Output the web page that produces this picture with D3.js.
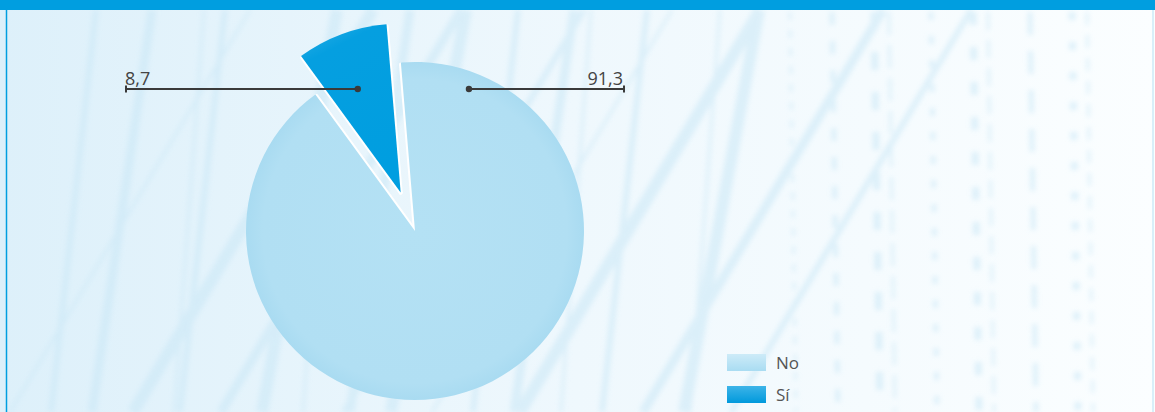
<!DOCTYPE html>
<html>
<head>
<meta charset="utf-8">
<script src="https://cdn.jsdelivr.net/npm/d3@7"></script>
<style>
  body { margin: 0; background: #fff; }
  svg { display: block; font-family: "Open Sans", "Noto Sans", sans-serif; }
</style>
</head>
<body>
<svg width="1155" height="412"></svg>
<script>
// data
const categories = ["No", "Sí"];
const values = [91.3, 8.7];
const valueLabels = ["91,3", "8,7"];

const svg = d3.select("svg");
const width = +svg.attr("width"),
      height = +svg.attr("height");

const cx = 415, cy = 231, radius = 169;
const startDeg = -4.8;      // No starts just left of 12 o'clock
const explode = [0, 41];    // Sí is pulled out
const labelY = 89;

const defs = svg.append("defs");

// background
const bg = defs.append("linearGradient").attr("id", "bg");
bg.append("stop").attr("offset", "0%").attr("stop-color", "#ddf0fa");
bg.append("stop").attr("offset", "50%").attr("stop-color", "#eff8fd");
bg.append("stop").attr("offset", "100%").attr("stop-color", "#fbfeff");

const blur = defs.append("filter").attr("id", "soft");
blur.append("feGaussianBlur").attr("stdDeviation", 2.5);

const noGrad = defs.append("radialGradient").attr("id", "g0");
noGrad.append("stop").attr("offset", "0%").attr("stop-color", "#b4e1f4");
noGrad.append("stop").attr("offset", "90%").attr("stop-color", "#b1dff3");
noGrad.append("stop").attr("offset", "100%").attr("stop-color", "#a9dbf1");

const siGrad = defs.append("linearGradient").attr("id", "g1")
    .attr("x1", 0).attr("y1", 0).attr("x2", 0.3).attr("y2", 1);
siGrad.append("stop").attr("offset", "0%").attr("stop-color", "#2fb0e6");
siGrad.append("stop").attr("offset", "22%").attr("stop-color", "#059fe0");
siGrad.append("stop").attr("offset", "100%").attr("stop-color", "#009ee0");

const legNo = defs.append("linearGradient").attr("id", "l0")
    .attr("x1", 0).attr("y1", 0).attr("x2", 0).attr("y2", 1);
legNo.append("stop").attr("offset", "0%").attr("stop-color", "#cdebf8");
legNo.append("stop").attr("offset", "100%").attr("stop-color", "#a9dcf2");
const legSi = defs.append("linearGradient").attr("id", "l1")
    .attr("x1", 0).attr("y1", 0).attr("x2", 0).attr("y2", 1);
legSi.append("stop").attr("offset", "0%").attr("stop-color", "#3db4e8");
legSi.append("stop").attr("offset", "100%").attr("stop-color", "#0099dc");

svg.append("rect").attr("width", width).attr("height", height).attr("fill", "url(#bg)");

// faint texture strokes
const tex = svg.append("g").attr("stroke", "#c9e7f6").attr("fill", "none")
    .attr("opacity", 0.55).attr("filter", "url(#soft)");
d3.range(22).forEach(i => {
    const x0 = 10 + i * 34 + (i % 5) * 7;
    tex.append("line")
        .attr("x1", x0).attr("y1", height)
        .attr("x2", x0 + (i % 3 === 0 ? 240 : 30 + (i % 4) * 15)).attr("y2", 10)
        .attr("stroke-width", 3 + (i % 4) * 3);
});
d3.range(10).forEach(i => {
    const x0 = 790 + i * 33 + (i % 3) * 9;
    tex.append("line")
        .attr("x1", x0).attr("y1", 12)
        .attr("x2", x0 + 6).attr("y2", height)
        .attr("stroke-width", 3 + (i % 3) * 2)
        .attr("stroke-dasharray", (8 + i % 4 * 5) + " " + (10 + i % 3 * 6));
});

// frame
svg.append("rect").attr("x", 0).attr("y", 0).attr("width", width).attr("height", 10)
    .attr("fill", "#009ee0");
svg.append("line").attr("x1", 6.5).attr("x2", 6.5).attr("y1", 10).attr("y2", height)
    .attr("stroke", "#009ee0").attr("stroke-width", 1.5);
svg.append("line").attr("x1", width - 2).attr("x2", width - 2).attr("y1", 10).attr("y2", height)
    .attr("stroke", "#b5e0f3").attr("stroke-width", 1);

// pie
const rad = Math.PI / 180;
const pie = d3.pie().sort(null)
    .startAngle(startDeg * rad)
    .endAngle(startDeg * rad + 2 * Math.PI);
const arcs = pie(values);
const arc = d3.arc().innerRadius(0).outerRadius(radius);

const offset = (d, i) => {
    const a = (d.startAngle + d.endAngle) / 2;
    return [Math.sin(a) * explode[i], -Math.cos(a) * explode[i]];
};

const g = svg.append("g").attr("transform", `translate(${cx},${cy})`);

// white edges along the radial sides (shows in the gap)
const edges = g.append("g").attr("stroke", "#fff").attr("stroke-width", 4)
    .attr("stroke-linecap", "round");
arcs.forEach((d, i) => {
    const o = offset(d, i);
    [d.startAngle, d.endAngle].forEach(a => {
        edges.append("line")
            .attr("x1", o[0]).attr("y1", o[1])
            .attr("x2", o[0] + Math.sin(a) * (radius - 2))
            .attr("y2", o[1] - Math.cos(a) * (radius - 2));
    });
});

g.selectAll("path.slice")
    .data(arcs)
    .enter().append("path")
    .attr("class", "slice")
    .attr("transform", (d, i) => `translate(${offset(d, i)})`)
    .attr("d", arc)
    .attr("fill", (d, i) => `url(#g${i})`);

// label leaders
const labelAngle = [20.8 * rad, -22.5 * rad];
const labelEnd = [cx + 209, cx - 289];

const leaders = arcs.map((d, i) => {
    const o = offset(d, i);
    const a = labelAngle[i];
    // radius at which the leader meets labelY
    const r = (cy + o[1] - labelY) / Math.cos(a);
    return {
        x: cx + o[0] + Math.sin(a) * r,
        y: labelY,
        end: labelEnd[i],
        text: valueLabels[i]
    };
});

const lab = svg.append("g");
leaders.forEach(l => {
    lab.append("line")
        .attr("x1", l.x).attr("y1", l.y).attr("x2", l.end).attr("y2", l.y)
        .attr("stroke", "#3a3a3a").attr("stroke-width", 2);
    lab.append("line")
        .attr("x1", l.end).attr("y1", l.y - 3.5).attr("x2", l.end).attr("y2", l.y + 3.5)
        .attr("stroke", "#3a3a3a").attr("stroke-width", 2);
    lab.append("circle").attr("cx", l.x).attr("cy", l.y).attr("r", 3.2).attr("fill", "#3a3a3a");
    const right = l.end > l.x;
    lab.append("text")
        .attr("x", right ? l.end - 1 : l.end - 1)
        .attr("y", l.y - 4)
        .attr("text-anchor", right ? "end" : "start")
        .attr("font-size", 18)
        .attr("fill", "#444")
        .text(l.text);
});

// legend
const legend = svg.append("g").attr("transform", "translate(727,354)");
const li = legend.selectAll("g").data(categories).enter().append("g")
    .attr("transform", (d, i) => `translate(0,${i * 32})`);
li.append("rect").attr("width", 39).attr("height", 17)
    .attr("fill", (d, i) => `url(#l${i})`);
li.append("text").attr("x", 49).attr("y", 15)
    .attr("font-size", 17).attr("fill", "#555")
    .text(d => d);
</script>
</body>
</html>
